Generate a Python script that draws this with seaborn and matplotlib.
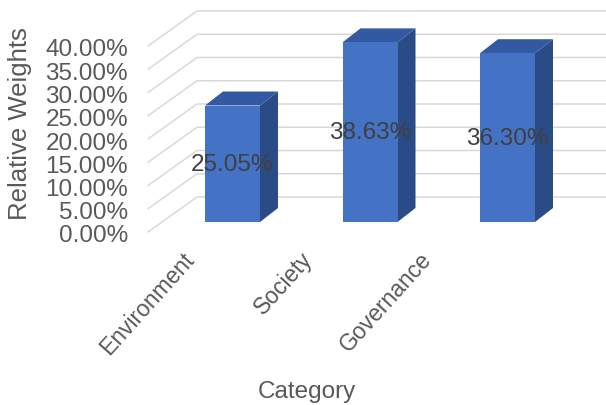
import numpy as np
import pandas as pd
import seaborn as sns
import matplotlib
matplotlib.use("Agg")
import matplotlib.pyplot as plt
from matplotlib.transforms import IdentityTransform, ScaledTranslation
from matplotlib.patches import Polygon
from matplotlib.lines import Line2D

categories = ["Environment", "Society", "Governance"]
weights = [25.05, 38.63, 36.30]
y_ticks = [0, 5, 10, 15, 20, 25, 30, 35, 40]
tick_labels = [f"{v:.2f}%" for v in y_ticks]

sns.set_theme(style="white")
plt.rcParams['font.family'] = ['Liberation Sans', 'DejaVu Sans']

W, H = 606, 406
fig = plt.figure(figsize=(W / 100, H / 100), dpi=100)
fig.patch.set_facecolor("white")

# front plane of the bars
xl, xr = 163.75, 576.25
yb, yt = 223, 37
ax = fig.add_axes([xl / W, 1 - yb / H, (xr - xl) / W, (yb - yt) / H])
ax.patch.set_alpha(0)

df = pd.DataFrame({"Category": categories, "Weight": weights})
sns.barplot(data=df, x="Category", y="Weight", color="#4472C4", width=0.4,
            saturation=1, ax=ax, zorder=3, linewidth=0)
ax.set_xlim(-0.5, 2.5)
ax.set_ylim(0, 40)
for s in ax.spines.values():
    s.set_visible(False)

FRONT = "#4472C4"
SIDE = "#2A4B86"
TOP = "#3359A3"
GRID = "#D9D9D9"
TXT = "#595959"

# back wall gridlines (3D look)
for v in y_ticks:
    _, yd = ax.transData.transform((0, v))
    pts = np.array([[148, yd - 10], [197, yd + 25], [W, yd + 25]])
    ax.add_artist(Line2D(pts[:, 0], pts[:, 1], transform=IdentityTransform(),
                         color=GRID, lw=1.1, clip_on=False, zorder=1))

# depth faces of the bars
dx, dy = 18, 14
for p in ax.patches:
    x, w, h = p.get_x(), p.get_width(), p.get_height()
    x0, y0 = ax.transData.transform((x, 0))
    x1, y1 = ax.transData.transform((x + w, h))
    side = Polygon([(x1, y0), (x1 + dx, y0 + dy), (x1 + dx, y1 + dy), (x1, y1)],
                   closed=True, transform=IdentityTransform(), facecolor=SIDE,
                   edgecolor="none", clip_on=False, zorder=2)
    top = Polygon([(x0, y1), (x1, y1), (x1 + dx, y1 + dy), (x0 + dx, y1 + dy)],
                  closed=True, transform=IdentityTransform(), facecolor=TOP,
                  edgecolor="none", clip_on=False, zorder=2)
    ax.add_artist(side)
    ax.add_artist(top)
    mask = Polygon([(x0, y0), (x1, y0), (x1, y1), (x0, y1)], closed=True,
                   transform=IdentityTransform(), facecolor=FRONT,
                   edgecolor="none", clip_on=False, zorder=2)
    ax.add_artist(mask)

# data labels
for c in ax.containers:
    ax.bar_label(c, labels=[f"{v:.2f}%" for v in weights], label_type="center",
                 fontsize=17.5, color="#404040", zorder=5)

# y tick labels on the front plane
ax.set_yticks(y_ticks)
ax.set_yticklabels(tick_labels, fontsize=17.5, color=TXT)
ax.tick_params(axis="y", length=0, pad=25.7)
for lab in ax.get_yticklabels():
    lab.set_transform(lab.get_transform() + ScaledTranslation(0, -0.11, fig.dpi_scale_trans))

# x tick labels (front edge of floor)
xpos = [-0.365 + 0.86 * i for i in range(len(categories))]
ax.set_xticks(xpos)
ax.set_xticklabels(categories, fontsize=16.5, color=TXT, rotation=48,
                   ha="right", va="top", rotation_mode="anchor")
ax.tick_params(axis="x", length=0, pad=18)

ax.set_xlabel("Category", fontsize=17.5, color=TXT, va="center")
ax.xaxis.set_label_coords((307 - xl) / (xr - xl), (yb - 392) / (yb - yt))
ax.set_ylabel("Relative Weights", fontsize=18.5, color=TXT, va="center")
ax.yaxis.set_label_coords((20 - xl) / (xr - xl), (yb - 124) / (yb - yt))

fig.savefig("out.png", dpi=100, facecolor="white")
